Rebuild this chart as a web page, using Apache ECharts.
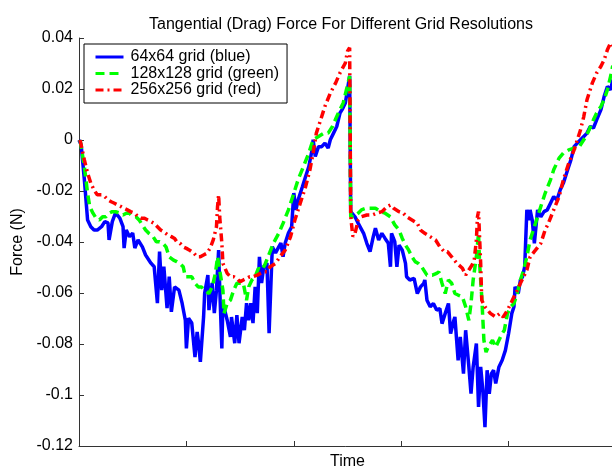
<!DOCTYPE html>
<html>
<head>
<meta charset="utf-8">
<script src="https://cdn.jsdelivr.net/npm/echarts@6/dist/echarts.min.js"></script>
<style>
html,body{margin:0;padding:0;background:#fff;}
#chart{width:612px;height:471px;}
</style>
</head>
<body>
<div id="chart"></div>
<script>
const titleText = 'Tangential (Drag) Force For Different Grid Resolutions';
const xName = 'Time';
const yName = 'Force (N)';
const seriesNames = ['64x64 grid (blue)', '128x128 grid (green)', '256x256 grid (red)'];
const yTicks = [-0.12, -0.1, -0.08, -0.06, -0.04, -0.02, 0, 0.02, 0.04];

const blueData = [[0.00,0.0000],[0.02,-0.0019],[0.05,-0.0156],[0.08,-0.0314],[0.11,-0.0340],[0.14,-0.0353],[0.17,-0.0353],[0.21,-0.0340],[0.24,-0.0320],[0.27,-0.0325],[0.28,-0.0392],[0.31,-0.0320],[0.34,-0.0286],[0.38,-0.0306],[0.41,-0.0340],[0.42,-0.0424],[0.44,-0.0353],[0.47,-0.0379],[0.50,-0.0365],[0.52,-0.0424],[0.55,-0.0392],[0.59,-0.0419],[0.62,-0.0451],[0.67,-0.0483],[0.70,-0.0497],[0.73,-0.0640],[0.75,-0.0438],[0.77,-0.0589],[0.79,-0.0497],[0.82,-0.0659],[0.84,-0.0536],[0.86,-0.0674],[0.89,-0.0576],[0.93,-0.0589],[0.96,-0.0640],[0.99,-0.0707],[1.00,-0.0817],[1.02,-0.0699],[1.05,-0.0718],[1.08,-0.0851],[1.10,-0.0753],[1.11,-0.0785],[1.13,-0.0870],[1.16,-0.0694],[1.17,-0.0601],[1.20,-0.0530],[1.21,-0.0667],[1.24,-0.0561],[1.26,-0.0679],[1.28,-0.0589],[1.30,-0.0432],[1.31,-0.0576],[1.33,-0.0817],[1.34,-0.0640],[1.38,-0.0707],[1.41,-0.0772],[1.42,-0.0694],[1.45,-0.0797],[1.47,-0.0687],[1.49,-0.0797],[1.52,-0.0694],[1.54,-0.0746],[1.56,-0.0640],[1.58,-0.0707],[1.60,-0.0640],[1.62,-0.0718],[1.64,-0.0576],[1.66,-0.0679],[1.68,-0.0458],[1.70,-0.0561],[1.72,-0.0497],[1.75,-0.0483],[1.77,-0.0758],[1.80,-0.0419],[1.83,-0.0443],[1.86,-0.0419],[1.88,-0.0404],[1.90,-0.0458],[1.92,-0.0404],[1.95,-0.0365],[1.98,-0.0340],[2.00,-0.0208],[2.02,-0.0274],[2.04,-0.0235],[2.08,-0.0183],[2.11,-0.0143],[2.14,-0.0104],[2.17,-0.0039],[2.18,0.0001],[2.20,-0.0065],[2.23,-0.0026],[2.26,-0.0026],[2.29,-0.0012],[2.32,-0.0032],[2.34,0.0001],[2.37,0.0027],[2.40,0.0053],[2.43,0.0106],[2.45,0.0119],[2.48,0.0145],[2.50,0.0198],[2.52,0.0252],[2.53,-0.0281],[2.57,-0.0301],[2.60,-0.0327],[2.65,-0.0366],[2.68,-0.0405],[2.71,-0.0438],[2.74,-0.0379],[2.76,-0.0346],[2.79,-0.0392],[2.82,-0.0366],[2.85,-0.0386],[2.88,-0.0405],[2.90,-0.0497],[2.91,-0.0366],[2.94,-0.0399],[2.96,-0.0497],[2.98,-0.0412],[3.01,-0.0432],[3.04,-0.0484],[3.05,-0.0536],[3.08,-0.0549],[3.12,-0.0543],[3.15,-0.0602],[3.18,-0.0576],[3.21,-0.0562],[3.22,-0.0549],[3.24,-0.0628],[3.27,-0.0654],[3.30,-0.0641],[3.33,-0.0667],[3.36,-0.0661],[3.38,-0.0720],[3.41,-0.0680],[3.44,-0.0641],[3.46,-0.0759],[3.49,-0.0707],[3.50,-0.0694],[3.53,-0.0864],[3.55,-0.0772],[3.58,-0.0916],[3.60,-0.0746],[3.63,-0.0890],[3.65,-0.0995],[3.67,-0.0890],[3.70,-0.0798],[3.72,-0.1047],[3.74,-0.0890],[3.76,-0.0982],[3.78,-0.1126],[3.80,-0.0903],[3.82,-0.0995],[3.84,-0.0916],[3.86,-0.0903],[3.88,-0.0955],[3.91,-0.0890],[3.94,-0.0864],[3.97,-0.0825],[4.00,-0.0759],[4.03,-0.0680],[4.05,-0.0654],[4.06,-0.0576],[4.09,-0.0602],[4.11,-0.0549],[4.13,-0.0536],[4.15,-0.0497],[4.17,-0.0274],[4.19,-0.0314],[4.20,-0.0274],[4.22,-0.0314],[4.24,-0.0405],[4.27,-0.0274],[4.30,-0.0301],[4.33,-0.0281],[4.36,-0.0274],[4.39,-0.0248],[4.42,-0.0222],[4.45,-0.0235],[4.48,-0.0196],[4.51,-0.0169],[4.55,-0.0117],[4.58,-0.0078],[4.61,-0.0026],[4.64,-0.0012],[4.67,0.0001],[4.70,0.0014],[4.73,0.0027],[4.76,0.0053],[4.79,0.0047],[4.82,0.0079],[4.86,0.0119],[4.89,0.0171],[4.92,0.0210],[4.95,0.0197],[4.97,0.0237]];

const greenData = [[0.01,0.0000],[0.05,-0.0104],[0.08,-0.0209],[0.10,-0.0261],[0.13,-0.0287],[0.16,-0.0307],[0.19,-0.0314],[0.22,-0.0301],[0.25,-0.0301],[0.28,-0.0287],[0.31,-0.0281],[0.34,-0.0281],[0.38,-0.0287],[0.41,-0.0294],[0.44,-0.0287],[0.47,-0.0287],[0.50,-0.0301],[0.53,-0.0301],[0.56,-0.0314],[0.59,-0.0333],[0.62,-0.0353],[0.65,-0.0366],[0.69,-0.0379],[0.72,-0.0399],[0.75,-0.0399],[0.78,-0.0405],[0.81,-0.0419],[0.84,-0.0458],[0.88,-0.0471],[0.91,-0.0477],[0.94,-0.0484],[0.97,-0.0497],[0.99,-0.0536],[1.02,-0.0536],[1.05,-0.0536],[1.08,-0.0562],[1.11,-0.0576],[1.14,-0.0576],[1.17,-0.0589],[1.21,-0.0602],[1.24,-0.0576],[1.27,-0.0523],[1.29,-0.0458],[1.31,-0.0510],[1.34,-0.0589],[1.35,-0.0680],[1.38,-0.0641],[1.41,-0.0628],[1.44,-0.0589],[1.47,-0.0562],[1.50,-0.0562],[1.53,-0.0562],[1.56,-0.0628],[1.58,-0.0576],[1.61,-0.0549],[1.64,-0.0536],[1.67,-0.0503],[1.70,-0.0510],[1.73,-0.0490],[1.76,-0.0458],[1.81,-0.0405],[1.86,-0.0366],[1.90,-0.0327],[1.95,-0.0274],[2.00,-0.0209],[2.04,-0.0156],[2.09,-0.0104],[2.14,-0.0051],[2.18,0.0001],[2.23,0.0014],[2.28,0.0027],[2.32,0.0027],[2.36,0.0053],[2.40,0.0092],[2.43,0.0119],[2.46,0.0145],[2.49,0.0197],[2.52,0.0250],[2.53,-0.0301],[2.56,-0.0301],[2.60,-0.0287],[2.63,-0.0274],[2.67,-0.0268],[2.71,-0.0268],[2.76,-0.0268],[2.81,-0.0281],[2.85,-0.0287],[2.90,-0.0301],[2.94,-0.0333],[2.98,-0.0353],[3.01,-0.0386],[3.04,-0.0412],[3.07,-0.0432],[3.10,-0.0458],[3.13,-0.0477],[3.16,-0.0484],[3.19,-0.0497],[3.24,-0.0530],[3.29,-0.0530],[3.33,-0.0523],[3.35,-0.0517],[3.38,-0.0562],[3.41,-0.0602],[3.44,-0.0549],[3.47,-0.0562],[3.50,-0.0602],[3.53,-0.0608],[3.57,-0.0615],[3.60,-0.0654],[3.63,-0.0707],[3.65,-0.0641],[3.67,-0.0549],[3.70,-0.0458],[3.72,-0.0366],[3.73,-0.0484],[3.75,-0.0615],[3.77,-0.0785],[3.79,-0.0832],[3.81,-0.0812],[3.85,-0.0785],[3.88,-0.0812],[3.91,-0.0785],[3.94,-0.0759],[3.96,-0.0746],[3.99,-0.0680],[4.02,-0.0654],[4.05,-0.0641],[4.08,-0.0602],[4.11,-0.0549],[4.14,-0.0510],[4.17,-0.0458],[4.20,-0.0392],[4.25,-0.0327],[4.30,-0.0261],[4.34,-0.0209],[4.39,-0.0156],[4.42,-0.0117],[4.47,-0.0071],[4.51,-0.0051],[4.56,-0.0039],[4.61,-0.0032],[4.65,-0.0032],[4.68,-0.0012],[4.72,0.0014],[4.75,0.0040],[4.79,0.0079],[4.82,0.0106],[4.86,0.0132],[4.89,0.0158],[4.92,0.0197],[4.95,0.0250],[4.97,0.0292]];

const redData = [[0.01,0.0000],[0.05,-0.0078],[0.08,-0.0130],[0.11,-0.0169],[0.14,-0.0196],[0.17,-0.0215],[0.21,-0.0215],[0.24,-0.0222],[0.27,-0.0235],[0.30,-0.0242],[0.33,-0.0248],[0.36,-0.0255],[0.39,-0.0261],[0.42,-0.0268],[0.45,-0.0274],[0.48,-0.0281],[0.52,-0.0287],[0.55,-0.0301],[0.58,-0.0307],[0.61,-0.0307],[0.64,-0.0314],[0.67,-0.0320],[0.70,-0.0327],[0.73,-0.0340],[0.76,-0.0353],[0.79,-0.0360],[0.83,-0.0373],[0.86,-0.0379],[0.89,-0.0386],[0.91,-0.0399],[0.94,-0.0405],[0.97,-0.0419],[1.00,-0.0425],[1.03,-0.0432],[1.07,-0.0444],[1.10,-0.0458],[1.13,-0.0458],[1.16,-0.0451],[1.19,-0.0444],[1.22,-0.0425],[1.25,-0.0392],[1.28,-0.0340],[1.29,-0.0261],[1.30,-0.0215],[1.31,-0.0301],[1.33,-0.0405],[1.34,-0.0484],[1.38,-0.0523],[1.41,-0.0536],[1.44,-0.0536],[1.47,-0.0543],[1.50,-0.0556],[1.53,-0.0549],[1.56,-0.0543],[1.59,-0.0536],[1.62,-0.0536],[1.66,-0.0530],[1.69,-0.0523],[1.72,-0.0517],[1.75,-0.0517],[1.78,-0.0497],[1.83,-0.0484],[1.87,-0.0458],[1.92,-0.0432],[1.97,-0.0379],[2.01,-0.0314],[2.06,-0.0248],[2.11,-0.0183],[2.15,-0.0117],[2.18,-0.0051],[2.21,0.0027],[2.25,0.0079],[2.29,0.0132],[2.34,0.0184],[2.39,0.0224],[2.43,0.0263],[2.48,0.0302],[2.50,0.0348],[2.52,0.0362],[2.53,-0.0301],[2.55,-0.0379],[2.57,-0.0366],[2.60,-0.0314],[2.63,-0.0301],[2.68,-0.0294],[2.73,-0.0294],[2.77,-0.0287],[2.82,-0.0281],[2.87,-0.0261],[2.90,-0.0255],[2.93,-0.0268],[2.98,-0.0281],[3.02,-0.0287],[3.05,-0.0301],[3.10,-0.0314],[3.15,-0.0327],[3.18,-0.0353],[3.22,-0.0366],[3.27,-0.0379],[3.32,-0.0392],[3.36,-0.0419],[3.40,-0.0438],[3.43,-0.0438],[3.47,-0.0458],[3.52,-0.0484],[3.57,-0.0503],[3.60,-0.0530],[3.63,-0.0510],[3.66,-0.0490],[3.68,-0.0471],[3.70,-0.0392],[3.71,-0.0301],[3.72,-0.0281],[3.74,-0.0484],[3.75,-0.0628],[3.78,-0.0654],[3.83,-0.0680],[3.88,-0.0694],[3.92,-0.0680],[3.95,-0.0694],[3.99,-0.0667],[4.02,-0.0641],[4.05,-0.0615],[4.08,-0.0589],[4.11,-0.0562],[4.14,-0.0536],[4.17,-0.0510],[4.20,-0.0458],[4.25,-0.0432],[4.30,-0.0405],[4.34,-0.0353],[4.37,-0.0327],[4.42,-0.0274],[4.47,-0.0222],[4.51,-0.0156],[4.56,-0.0091],[4.61,-0.0039],[4.64,0.0001],[4.67,0.0040],[4.70,0.0092],[4.73,0.0158],[4.78,0.0224],[4.82,0.0263],[4.86,0.0289],[4.89,0.0315],[4.92,0.0354],[4.95,0.0381],[4.97,0.0370]];

const FONT = '"Liberation Sans", Arial, Helvetica, sans-serif';
const chart = echarts.init(document.getElementById('chart'), null, {renderer: 'canvas'});
const axisCol = '#333';

chart.setOption({
  animation: false,
  backgroundColor: '#fff',
  textStyle: {fontFamily: FONT},
  title: {
    text: titleText,
    left: 336, top: 12, textAlign: 'center',
    textStyle: {fontFamily: FONT, fontSize: 16, fontWeight: 'normal', color: '#000'}
  },
  grid: {left: 79, right: -4, top: 38, bottom: 25, containLabel: false, outerBoundsMode: 'none'},
  legend: {
    left: 84, top: 44, orient: 'vertical',
    data: seriesNames,
    backgroundColor: '#fff',
    borderColor: '#000', borderWidth: 1, borderRadius: 0,
    padding: [5, 8, 5, 10],
    itemWidth: 28, itemHeight: 18, itemGap: 0.5,
    itemStyle: {opacity: 0},
    lineStyle: {width: 3},
    textStyle: {fontFamily: FONT, fontSize: 16, color: '#000', padding: [0, 0, 0, 2]}
  },
  xAxis: {
    type: 'value', min: 0, max: 5, interval: 1,
    name: xName, nameLocation: 'middle', nameGap: 8,
    nameTextStyle: {fontFamily: FONT, fontSize: 16, color: '#000'},
    axisLine: {show: true, onZero: false, lineStyle: {color: axisCol, width: 1}},
    axisTick: {show: true, inside: true, length: 5, lineStyle: {color: axisCol}},
    axisLabel: {show: false},
    splitLine: {show: false}
  },
  yAxis: {
    type: 'value', min: yTicks[0], max: yTicks[yTicks.length - 1], interval: 0.02,
    name: yName, nameLocation: 'middle', nameGap: 42, nameRotate: 90,
    nameTextStyle: {fontFamily: FONT, fontSize: 16, color: '#000'},
    axisLine: {show: true, lineStyle: {color: axisCol, width: 1}},
    axisTick: {show: true, inside: true, length: 5, lineStyle: {color: axisCol}},
    axisLabel: {
      fontFamily: FONT, fontSize: 16, color: '#000', margin: 6,
      formatter: v => String(parseFloat(v.toFixed(2)))
    },
    splitLine: {show: false}
  },
  series: [
    {name: seriesNames[0], type: 'line', data: blueData, symbol: 'none', color: '#0000ff',
     lineStyle: {color: '#0000ff', width: 3.5, type: 'solid'}},
    {name: seriesNames[1], type: 'line', data: greenData, symbol: 'none', color: '#00ff00',
     lineStyle: {color: '#00ff00', width: 3.5, type: [9, 5]}},
    {name: seriesNames[2], type: 'line', data: redData, symbol: 'none', color: '#ff0000',
     lineStyle: {color: '#ff0000', width: 3.5, type: [8, 4, 2, 4]}}
  ]
});
</script>
</body>
</html>
